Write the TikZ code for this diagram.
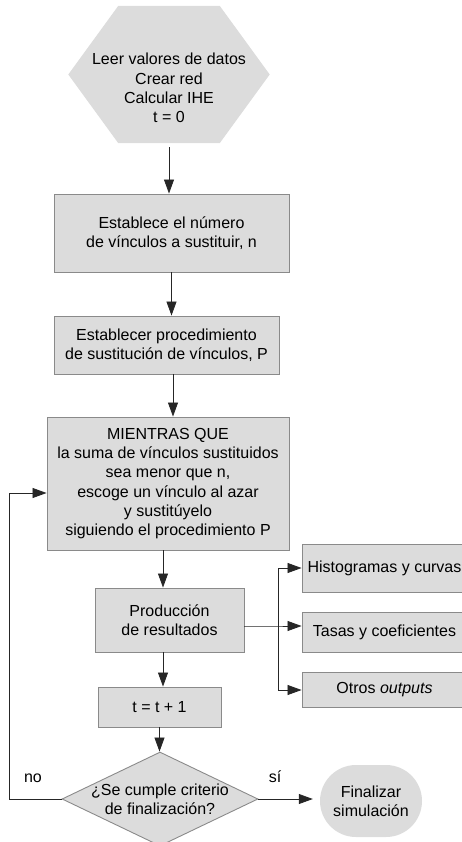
\documentclass[tikz,border=0pt]{standalone}
\usepackage{fontspec}
\setmainfont{Liberation Sans}
\usepackage{tikz}
\usetikzlibrary{arrows.meta, shapes.geometric, shapes.misc}

\definecolor{boxgray}{RGB}{220,220,220}
\definecolor{edgegray}{RGB}{138,138,138}

\begin{document}
\begin{tikzpicture}[x=1pt, y=-1pt,
    font=\fontsize{16}{19.3}\selectfont,
    box/.style={rectangle, fill=boxgray, draw=edgegray, line width=0.9pt, align=center, inner sep=0pt},
    flow/.style={-{Triangle[length=14pt, width=10pt]}, line width=0.8pt, draw=black!85},
    plain/.style={line width=0.8pt, draw=black!85}]
    \useasboundingbox (0,0) rectangle (461,842);

    % Start hexagon
    \node[minimum width=201pt, minimum height=137pt, inner sep=0pt] (hex) at (169,74.5) {};
    \fill[boxgray] (hex.west) -- ([xshift=50pt]hex.north west) -- ([xshift=-50pt]hex.north east)
        -- (hex.east) -- ([xshift=-50pt]hex.south east) -- ([xshift=50pt]hex.south west) -- cycle;
    \node[align=center, inner sep=0pt] (hextxt) at (169,88) {Leer valores de datos\\Crear red\\Calcular IHE\\t = 0};

    % Main boxes
    \node[box, minimum width=235pt, minimum height=78pt] (links) at (171.5,233) {Establece el número\\de vínculos a sustituir, n};
    \node[box, minimum width=225pt, minimum height=58pt] (proc) at (166.5,345) {Establecer procedimiento\\de sustitución de vínculos, P};
    \node[box, minimum width=242pt, minimum height=133pt] (loop) at (168,483.5) {MIENTRAS QUE\\la suma de vínculos sustituidos\\sea menor que n,\\escoge un vínculo al azar\\y sustitúyelo\\siguiendo el procedimiento P};
    \node[box, minimum width=149pt, minimum height=64pt] (prod) at (169.5,620) {Producción\\de resultados};
    \node[box, minimum width=123pt, minimum height=40pt] (step) at (159.5,707) {t = t + 1};

    % Decision and end
    \node[diamond, fill=boxgray, draw=edgegray, line width=0.9pt, inner sep=0pt,
          minimum width=196pt, minimum height=94pt,
          label={[align=center, inner sep=0pt]center:¿Se cumple criterio\\de finalización?}] (check) at (160,799) {};
    \node[rounded rectangle, fill=boxgray, align=center, minimum width=102pt, minimum height=72pt, inner sep=0pt] (finish) at (371,801) {Finalizar\\simulación};

    % Outputs
    \node[box, minimum width=165pt, minimum height=48pt] (hist) at (384.5,568) {Histogramas y curvas};
    \node[box, minimum width=165pt, minimum height=40pt] (rates) at (384.5,632) {Tasas y coeficientes};
    \node[box, minimum width=165pt, minimum height=35pt] (other) at (384.5,690) {Otros \textit{outputs}};

    % Main flow
    \draw[flow, shorten <=4pt] (hex.south) -- (hex.south |- links.north);
    \draw[flow] (links.south) -- (links.south |- proc.north);
    \draw[flow] ([xshift=6.5pt]proc.south) -- ([xshift=6.5pt]proc.south |- loop.north);
    \draw[flow] ([xshift=-5pt]loop.south) -- ([xshift=-5pt]loop.south |- prod.north);
    \draw[flow] ([xshift=-6.5pt]prod.south) -- ([xshift=-6.5pt]prod.south |- step.north);
    \draw[flow] (step.south) -- (step.south |- check.north);

    % Outputs branch
    \coordinate (split) at (278,626);
    \draw[flow] ([yshift=-6pt]prod.east) -- (split) -- (split -| rates.west);
    \draw[plain] (split |- hist.west) -- (split |- other.west);
    \draw[flow] (split |- hist.west) -- (hist.west);
    \draw[flow] (split |- other.west) -- (other.west);

    % Loop back and exit
    \draw[flow] (check.west) -- ++(-52,0) |- ([yshift=-9.5pt]loop.west);
    \node (no) at (33,778) {no};
    \draw[flow, shorten >=7pt] (check.east) -- (check.east -| finish.west);
    \node (yes) at (275,777) {sí};
\end{tikzpicture}
\end{document}
